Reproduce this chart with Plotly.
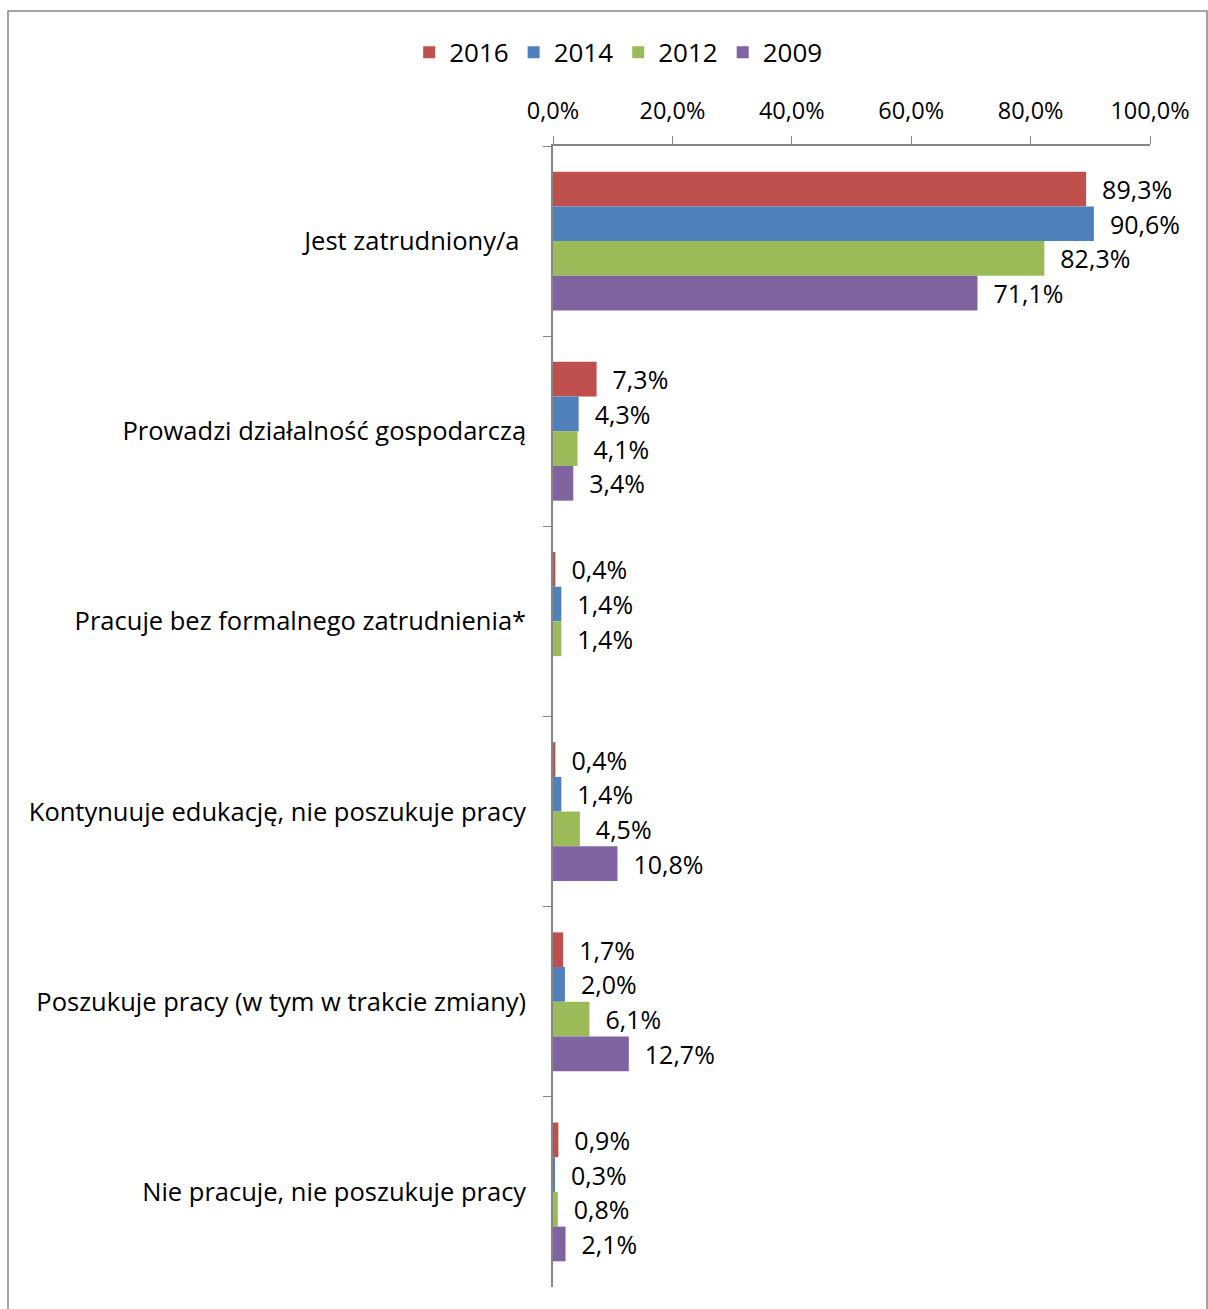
import plotly.graph_objects as go

categories = [
    "Jest zatrudniony/a ",
    "Prowadzi działalność gospodarczą",
    "Pracuje bez formalnego zatrudnienia*",
    "Kontynuuje edukację, nie poszukuje pracy",
    "Poszukuje pracy (w tym w trakcie zmiany)",
    "Nie pracuje, nie poszukuje pracy",
]
years = ["2016", "2014", "2012", "2009"]
values_2016 = [89.3, 7.3, 0.4, 0.4, 1.7, 0.9]
values_2014 = [90.6, 4.3, 1.4, 1.4, 2.0, 0.3]
values_2012 = [82.3, 4.1, 1.4, 4.5, 6.1, 0.8]
values_2009 = [71.1, 3.4, None, 10.8, 12.7, 2.1]
colors = ["#C0504D", "#4F81BD", "#9BBB59", "#8064A2"]

series = [values_2016, values_2014, values_2012, values_2009]

FONT = "Open Sans"

fig = go.Figure()
for name, vals, col in zip(years, series, colors):
    fig.add_trace(go.Bar(
        y=categories,
        x=vals,
        name=name,
        orientation="h",
        marker=dict(color=col, line=dict(width=0)),
        texttemplate="  %{x:.1f}%",
        textposition="outside",
        constraintext="none",
        cliponaxis=False,
        textfont=dict(family=FONT, size=25, color="#000000"),
        hoverinfo="skip",
    ))

fig.update_layout(
    width=1208,
    height=1309,
    margin=dict(l=553, r=58, t=146, b=22),
    paper_bgcolor="white",
    plot_bgcolor="white",
    barmode="group",
    bargap=0.27,
    bargroupgap=0,
    separators=",.",
    font=dict(family=FONT, size=22, color="#000000"),
    legend=dict(
        orientation="h",
        x=0.11, xanchor="center",
        y=1.082, yanchor="middle",
        font=dict(family=FONT, size=26),
        itemwidth=30,
        traceorder="normal",
        bgcolor="rgba(0,0,0,0)",
    ),
    xaxis=dict(
        side="top",
        range=[0, 100],
        dtick=20,
        tick0=0,
        tickformat=".1f",
        ticksuffix="%",
        showgrid=False,
        zeroline=False,
        showline=True,
        linecolor="#868686",
        linewidth=1.5,
        ticks="outside",
        ticklen=8,
        tickcolor="#868686",
        ticklabelstandoff=8,
        tickfont=dict(family=FONT, size=23.5),
    ),
    yaxis=dict(
        categoryorder="array",
        categoryarray=categories,
        autorange="reversed",
        showgrid=False,
        zeroline=False,
        showline=True,
        linecolor="#868686",
        linewidth=1.5,
        ticks="outside",
        tickson="boundaries",
        ticklen=8,
        tickcolor="#868686",
        ticklabelstandoff=20,
        tickfont=dict(family=FONT, size=25.5),
    ),
    shapes=[
        dict(
            type="rect", xref="paper", yref="paper",
            x0=-0.9129, x1=1.0955, y0=-0.05, y1=1.1183,
            line=dict(color="#868686", width=1.5),
            fillcolor="rgba(0,0,0,0)", layer="below",
        )
    ],
)

fig.write_html("out.html")
